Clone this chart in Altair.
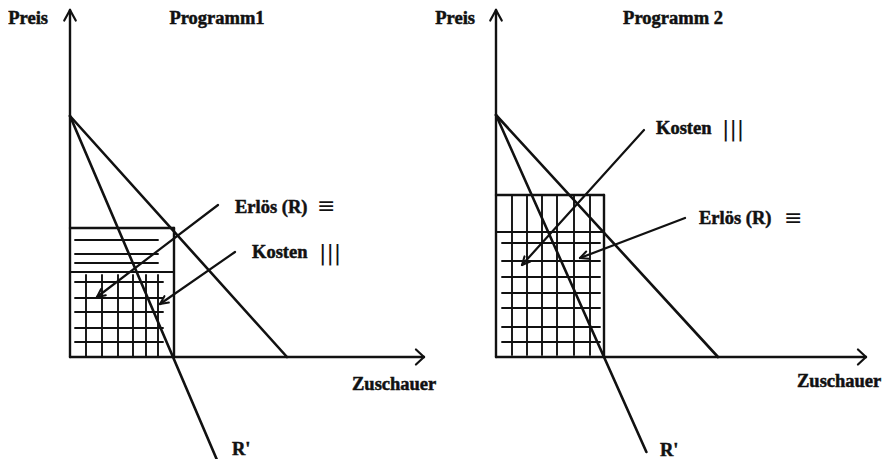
import altair as alt
import pandas as pd
import numpy as np

# ---------------- data (local units: Zuschauer to the right, Preis upward) -------------
panels = ["Programm1", "Programm 2"]
panel_shift = [0, 426]              # layout: horizontal placement of panel 2

price_max = [241, 242]              # demand line hits Preis axis
audience_max = [217, 222]           # demand line hits Zuschauer axis
mr_zero = [103, 108]                # R' crosses the Zuschauer axis
mr_end_y = [-106, -95]              # where R' line stops (below axis)
rect_q = [104, 108]                 # rectangle width (Zuschauer)
rect_top = [129, 162]               # rectangle height (Preis)
rect_split = [85, 125]              # inner dividing line
axis_x_len = [354, 370]
axis_y_len = [347, 347]

# hatching
p1_upper_h = [117, 103, 94]                 # Erlös lines above the split (panel 1)
p1_lower_v = [16, 32, 48, 63, 76, 88]       # Kosten lines (panel 1)
p1_lower_h = [75, 59, 45, 29, 15]           # Erlös lines (panel 1)
p2_v = [16, 31, 46, 61, 78, 94]             # Kosten lines (panel 2)
p2_lower_h = [114, 96, 80, 64, 49, 30, 15]  # Erlös lines (panel 2)

# annotation arrows: (x_from, y_from, x_to, y_to)
arrows = {
    0: [(148, 152, 27, 60), (165, 105, 90, 53)],
    1: [(148, 227, 26, 92), (189, 139, 84, 99)],
}

# labels: (text, x, y, align)
labels = {
    0: [("Preis", -22, 339, "right"), ("Programm1", 147, 339, "center"),
        ("Erlös (R)", 165, 150, "left"), ("Kosten", 182, 105, "left"),
        ("Zuschauer", 282, -27, "left"), ("R'", 162, -92, "left")],
    1: [("Preis", -21, 339, "right"), ("Programm 2", 177, 339, "center"),
        ("Kosten", 160, 229, "left"), ("Erlös (R)", 203, 139, "left"),
        ("Zuschauer", 301, -24, "left"), ("R'", 164, -93, "left")],
}
# hatch-key symbols next to the labels: (symbol, x, y)
symbols = {
    0: [("≡", 247, 151), ("|||", 249, 104)],
    1: [("≡", 288, 139), ("|||", 226, 228)],
}

# ---------------- build segments ----------------
segs = []
def seg(p, x, y, x2, y2, w):
    s = panel_shift[p]
    segs.append(dict(x=x + s, y=y, x2=x2 + s, y2=y2, w=w))

def chevron(p, tx, ty, fx, fy, length, spread, w):
    ang = np.arctan2(fy - ty, fx - tx)
    for d in (-spread, spread):
        seg(p, tx, ty, tx + length * np.cos(ang + d), ty + length * np.sin(ang + d), w)

for p in range(2):
    # axes
    seg(p, 0, 0, 0, axis_y_len[p], 2.4)
    seg(p, 0, 0, axis_x_len[p], 0, 2.4)
    chevron(p, 0, axis_y_len[p], 0, 0, 12, 0.5, 2.2)
    chevron(p, axis_x_len[p], 0, 0, 0, 11, 0.75, 2.2)
    # demand
    seg(p, 0, price_max[p], audience_max[p], 0, 2.6)
    # R'
    slope = price_max[p] / mr_zero[p]
    seg(p, 0, price_max[p], (price_max[p] - mr_end_y[p]) / slope, mr_end_y[p], 2.6)
    # rectangle
    seg(p, 0, rect_top[p], rect_q[p], rect_top[p], 2.4)
    seg(p, rect_q[p], 0, rect_q[p], rect_top[p], 2.4)
    seg(p, 0, rect_split[p], rect_q[p], rect_split[p], 2.0)
    # arrows
    for (x1, y1, x2, y2) in arrows[p]:
        seg(p, x1, y1, x2, y2, 2.2)
        chevron(p, x2, y2, x1, y1, 9, 0.45, 2.0)

for y in p1_upper_h:
    seg(0, 5, y, 88, y, 1.9)
for x in p1_lower_v:
    seg(0, x, 0, x, 82, 1.9)
for y in p1_lower_h:
    seg(0, 5, y, 93, y, 1.9)
for x in p2_v:
    seg(1, x, 2, x, rect_top[1], 1.9)
for y in p2_lower_h:
    seg(1, 6, y, 104, y, 1.9)

seg_df = pd.DataFrame(segs)

txt = []
for p in range(2):
    for (t, x, y, a) in labels[p]:
        txt.append(dict(t=t, x=x + panel_shift[p], y=y, a=a))
txt_df = pd.DataFrame(txt)

sym = []
for p in range(2):
    for (t, x, y) in symbols[p]:
        sym.append(dict(t=t, x=x + panel_shift[p], y=y))
sym_df = pd.DataFrame(sym)

xs = alt.Scale(domain=[-62, 816], nice=False, zero=False)
ys = alt.Scale(domain=[-102, 349], nice=False, zero=False)

lines = alt.Chart(seg_df).mark_rule(color="#111111", strokeCap="round").encode(
    x=alt.X("x:Q", scale=xs, axis=None),
    y=alt.Y("y:Q", scale=ys, axis=None),
    x2="x2:Q",
    y2="y2:Q",
    strokeWidth=alt.StrokeWidth("w:Q", scale=None, legend=None),
)

def text_layer(align):
    return alt.Chart(txt_df[txt_df.a == align]).mark_text(
        font="Liberation Serif", fontWeight="bold", fontSize=18.5,
        color="#111111", stroke="#111111", strokeWidth=0.5,
        align=align, baseline="middle"
    ).encode(
        x=alt.X("x:Q", scale=xs, axis=None),
        y=alt.Y("y:Q", scale=ys, axis=None),
        text="t:N",
    )

sym_layer = alt.Chart(sym_df).mark_text(
    font="DejaVu Sans", fontSize=22, color="#111111",
    align="left", baseline="middle"
).encode(
    x=alt.X("x:Q", scale=xs, axis=None),
    y=alt.Y("y:Q", scale=ys, axis=None),
    text="t:N",
)

chart = alt.layer(lines, text_layer("left"), text_layer("center"), text_layer("right"), sym_layer).properties(
    width=878, height=451,
    autosize=alt.AutoSizeParams(type="none"),
    padding=0,
    background="white",
).configure_view(stroke=None)

chart.save("out.html", embed_options={"renderer": "svg", "actions": False})
